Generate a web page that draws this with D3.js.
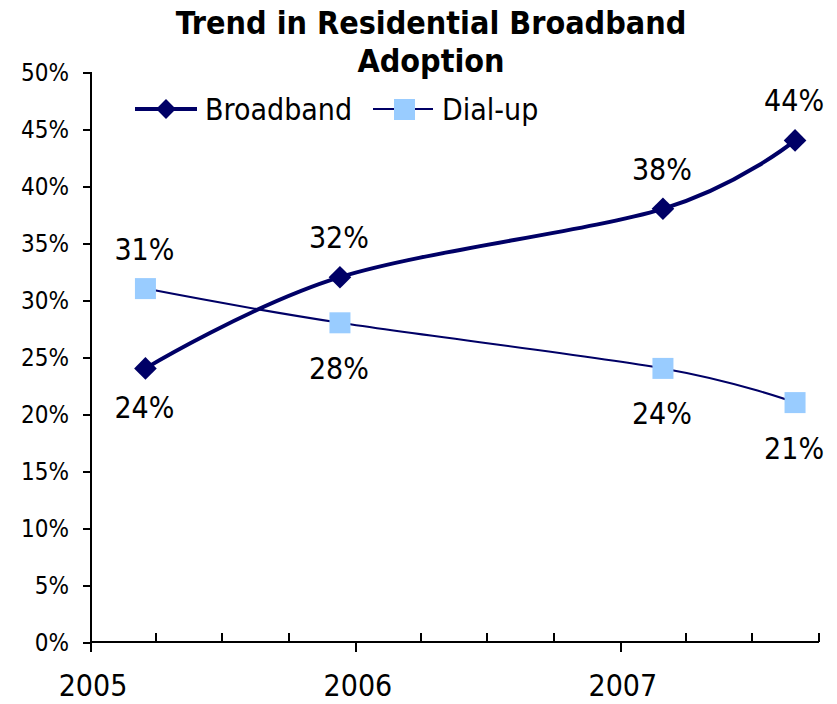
<!DOCTYPE html>
<html>
<head>
<meta charset="utf-8">
<script src="https://cdn.jsdelivr.net/npm/d3@7"></script>
<style>
  body { margin: 0; background: #fff; }
  svg text { font-family: "DejaVu Sans Condensed", "DejaVu Sans", sans-serif; fill: #000; }
  .axis path, .axis line { stroke: #000; stroke-width: 2; shape-rendering: crispEdges; }
</style>
</head>
<body>
<div id="chart"></div>
<script>
// survey dates and shares (%)
var dates = ["2005-03-17", "2005-12-10", "2007-02-28", "2007-08-29"];
var broadband = [24, 32, 38, 44];
var dialup = [31, 28, 24, 21];
var yTicks = [0, 5, 10, 15, 20, 25, 30, 35, 40, 45, 50];
var yearLabels = ["2005", "2006", "2007"];
// where each data label sits relative to its point
var broadbandLabelPos = ["below", "above", "above", "above"];
var dialupLabelPos = ["above", "below", "below", "below"];

var width = 837, height = 704;
var parse = d3.timeParse("%Y-%m-%d");

var svg = d3.select("#chart")
  .append("svg")
  .attr("width", width)
  .attr("height", height);

var x = d3.scaleTime()
  .domain([parse("2005-01-01"), parse("2007-10-01")])
  .range([91, 819]);

var y = d3.scaleLinear()
  .domain([0, 50])
  .range([642, 72]);

// title
var title = svg.append("text")
  .attr("text-anchor", "middle")
  .style("font-weight", "bold")
  .style("font-size", "32px");
title.append("tspan").attr("x", 431).attr("y", 34).text("Trend in Residential Broadband");
title.append("tspan").attr("x", 431).attr("y", 72).text("Adoption");

// y axis
var yAxis = svg.append("g")
  .attr("class", "axis")
  .attr("transform", "translate(" + x.range()[0] + ",0)")
  .call(d3.axisLeft(y).tickValues(yTicks).tickSize(8).tickPadding(14)
    .tickFormat(function (d) { return d + "%"; }));
yAxis.select(".domain").attr("d", "M0," + y(50) + "V" + y(0));
yAxis.selectAll("text").style("font-size", "24px").attr("dy", "0.36em");

// x axis: quarterly minor ticks pointing up, year ticks pointing down
var xg = svg.append("g")
  .attr("class", "axis")
  .attr("transform", "translate(0," + y(0) + ")");
xg.append("line")
  .attr("x1", x.range()[0]).attr("x2", x.range()[1]);
var quarters = d3.timeMonth.every(3).range(x.domain()[0], d3.timeDay.offset(x.domain()[1], 1))
  .filter(function (d) { return d.getMonth() !== 0; });
xg.selectAll(".minor")
  .data(quarters)
  .enter().append("line")
  .attr("x1", function (d) { return x(d); })
  .attr("x2", function (d) { return x(d); })
  .attr("y1", 0).attr("y2", -9);
var years = yearLabels.map(function (s) { return parse(s + "-01-01"); });
xg.selectAll(".major")
  .data(years)
  .enter().append("line")
  .attr("x1", function (d) { return x(d); })
  .attr("x2", function (d) { return x(d); })
  .attr("y1", 0).attr("y2", 10);
xg.selectAll(".ylab")
  .data(years)
  .enter().append("text")
  .attr("x", function (d) { return x(d) + 2; })
  .attr("y", 54)
  .attr("text-anchor", "middle")
  .style("font-size", "30px")
  .text(function (d, i) { return yearLabels[i]; });

// series
var bbData = dates.map(function (d, i) { return { date: parse(d), value: broadband[i], pos: broadbandLabelPos[i] }; });
var duData = dates.map(function (d, i) { return { date: parse(d), value: dialup[i], pos: dialupLabelPos[i] }; });

var line = d3.line()
  .x(function (d) { return x(d.date); })
  .y(function (d) { return y(d.value); })
  .curve(d3.curveCardinal.tension(0));

svg.append("path")
  .datum(bbData)
  .attr("fill", "none")
  .attr("stroke", "#000066")
  .attr("stroke-width", 4)
  .attr("d", line);

svg.append("path")
  .datum(duData)
  .attr("fill", "none")
  .attr("stroke", "#000066")
  .attr("stroke-width", 2)
  .attr("d", line);

var diamond = d3.symbol().type(d3.symbolSquare).size(16 * 16);

svg.selectAll(".bb-marker")
  .data(bbData)
  .enter().append("path")
  .attr("d", diamond)
  .attr("fill", "#000066")
  .attr("transform", function (d) { return "translate(" + x(d.date) + "," + y(d.value) + ") rotate(45)"; });

svg.selectAll(".du-marker")
  .data(duData)
  .enter().append("rect")
  .attr("x", function (d) { return x(d.date) - 10.5; })
  .attr("y", function (d) { return y(d.value) - 10.5; })
  .attr("width", 21).attr("height", 21)
  .attr("fill", "#99ccff");

// data labels
function addLabels(data, belowOffset) {
  svg.selectAll(null)
    .data(data)
    .enter().append("text")
    .attr("x", function (d) { return x(d.date) - 1; })
    .attr("y", function (d) { return y(d.value) + (d.pos === "above" ? -29 : belowOffset); })
    .attr("text-anchor", "middle")
    .style("font-size", "30px")
    .text(function (d) { return d.value + "%"; });
}
addLabels(bbData, 50);
addLabels(duData, 56);

// legend
var legend = svg.append("g");
legend.append("line")
  .attr("x1", 135).attr("x2", 197).attr("y1", 109).attr("y2", 109)
  .attr("stroke", "#000066").attr("stroke-width", 4);
legend.append("path")
  .attr("d", d3.symbol().type(d3.symbolSquare).size(14 * 14))
  .attr("fill", "#000066")
  .attr("transform", "translate(166,109) rotate(45)");
legend.append("text").attr("x", 205).attr("y", 120).style("font-size", "30px").text("Broadband");

legend.append("line")
  .attr("x1", 373).attr("x2", 433).attr("y1", 109).attr("y2", 109)
  .attr("stroke", "#000066").attr("stroke-width", 2);
legend.append("rect")
  .attr("x", 394).attr("y", 99).attr("width", 21).attr("height", 21)
  .attr("fill", "#99ccff");
legend.append("text").attr("x", 442).attr("y", 120).style("font-size", "30px").text("Dial-up");
</script>
</body>
</html>
